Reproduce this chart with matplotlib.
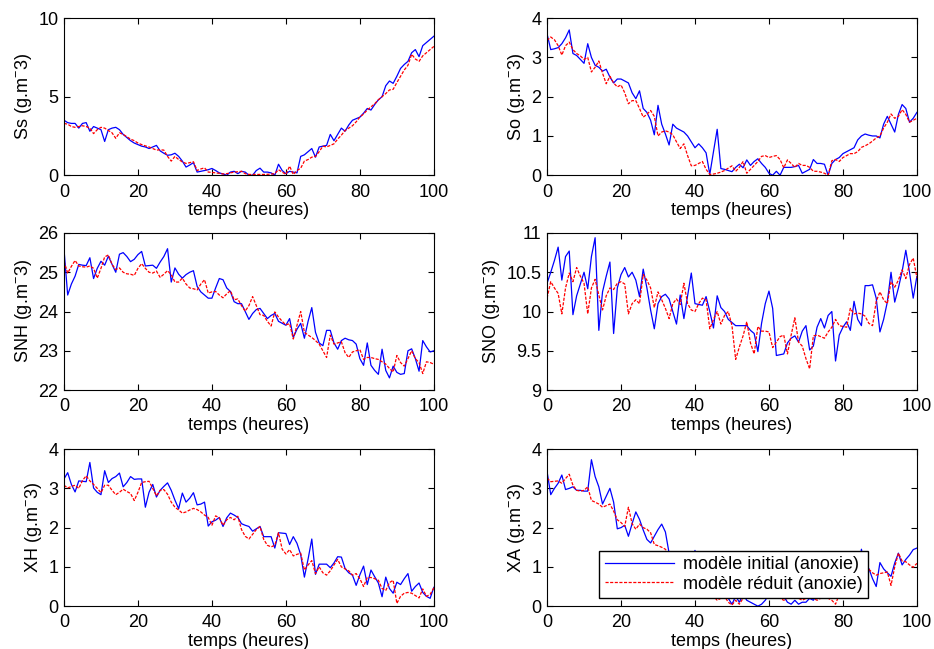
import matplotlib
matplotlib.use("Agg")
import matplotlib.pyplot as plt
import numpy as np

plt.rcParams['font.family'] = ['Liberation Sans', 'DejaVu Sans']
plt.rcParams['font.size'] = 13
plt.rcParams['mathtext.default'] = 'regular'

# temps (heures)
t = np.arange(0, 101)

ss_init = [3.5, 3.35, 3.3, 3.3, 3.0, 3.3, 3.35, 2.8, 3.1, 3.0,
           2.9, 2.15, 2.9, 3.0, 3.05, 2.9, 2.6, 2.4, 2.2, 2.05,
           1.95, 1.85, 1.8, 1.7, 1.8, 1.9, 1.55, 1.4, 1.27, 1.3,
           1.4, 1.2, 0.9, 0.52, 0.65, 0.8, 0.2, 0.25, 0.3, 0.35,
           0.43, 0.3, 0.15, 0.08, 0.0, 0.2, 0.25, 0.1, 0.25, 0.2,
           0.0, 0.0, 0.3, 0.45, 0.2, 0.2, 0.15, 0.0, 0.7, 0.3,
           0.1, 0.25, 0.2, 0.15, 1.2, 1.3, 1.5, 1.7, 1.15, 1.8,
           1.85, 1.9, 2.6, 2.2, 2.6, 3.0, 2.8, 3.2, 3.5, 3.6,
           3.7, 3.95, 4.25, 4.15, 4.5, 4.8, 5.0, 5.7, 6.0, 5.85,
           6.3, 6.8, 7.05, 7.25, 7.8, 8.0, 7.55, 8.25, 8.45, 8.65,
           8.85]
ss_red = [3.3, 3.25, 3.1, 3.05, 3.1, 3.15, 3.1, 3.0, 2.65, 2.9,
          3.05, 3.0, 2.85, 2.7, 2.35, 2.7, 2.6, 2.45, 2.3, 2.2,
          2.05, 1.95, 1.87, 1.8, 1.7, 1.6, 1.62, 1.6, 1.2, 0.9,
          1.2, 1.0, 0.85, 0.75, 0.8, 0.86, 0.3, 0.4, 0.47, 0.2,
          0.18, 0.15, 0.12, 0.08, 0.1, 0.15, 0.2, 0.22, 0.25, 0.1,
          0.05, 0.05, 0.05, 0.05, 0.05, 0.06, 0.07, 0.1, 0.35, 0.2,
          0.05, 0.58, 0.05, 0.3, 0.45, 0.9, 1.0, 1.15, 1.2, 1.5,
          1.85, 1.8, 1.9, 2.0, 2.3, 2.55, 2.85, 3.0, 3.15, 3.4,
          3.7, 3.9, 4.15, 4.35, 4.55, 4.8, 5.0, 5.2, 5.43, 5.47,
          5.9, 6.3, 6.7, 7.0, 7.7, 7.4, 7.25, 7.6, 7.8, 8.0,
          8.2]

so_init = [3.6, 3.2, 3.22, 3.25, 3.35, 3.5, 3.7, 3.1, 3.05, 2.95,
           2.85, 3.35, 3.0, 2.8, 2.75, 2.65, 2.7, 2.5, 2.35, 2.45,
           2.45, 2.4, 2.35, 2.1, 1.95, 2.15, 1.7, 1.6, 1.4, 1.03,
           1.78, 1.3, 1.05, 0.77, 1.3, 1.2, 1.15, 1.1, 1.0, 0.85,
           0.7, 0.8, 0.7, 0.57, 0.02, 0.6, 1.17, 0.17, 0.15, 0.12,
           0.09, 0.2, 0.28, 0.19, 0.39, 0.25, 0.35, 0.42, 0.3, 0.2,
           0.05, 0.0, 0.1, 0.0, 0.2, 0.2, 0.2, 0.22, 0.25, 0.05,
           0.1, 0.15, 0.4, 0.3, 0.3, 0.28, 0.0, 0.3, 0.4, 0.45,
           0.55, 0.6, 0.65, 0.7, 0.9, 1.0, 1.05, 1.02, 1.0, 1.0,
           0.95, 1.3, 1.5, 1.3, 1.1, 1.55, 1.8, 1.7, 1.35, 1.45,
           1.6]
so_red = [3.43, 3.52, 3.45, 3.3, 3.06, 3.3, 3.39, 3.2, 3.1, 3.04,
          2.95, 3.0, 2.63, 2.75, 2.91, 2.6, 2.33, 2.52, 2.35, 2.25,
          2.3, 2.1, 1.82, 1.9, 1.9, 1.7, 1.48, 1.55, 1.65, 1.5,
          1.0, 1.1, 1.13, 1.1, 1.03, 0.85, 0.68, 0.8, 0.5, 0.24,
          0.25, 0.3, 0.35, 0.15, 0.02, 0.03, 0.05, 0.08, 0.12, 0.18,
          0.24, 0.1, 0.2, 0.35, 0.05, 0.15, 0.25, 0.35, 0.48, 0.5,
          0.45, 0.48, 0.5, 0.4, 0.19, 0.39, 0.3, 0.2, 0.3, 0.25,
          0.25, 0.2, 0.1, 0.1, 0.08, 0.05, 0.0, 0.37, 0.4, 0.35,
          0.45, 0.5, 0.55, 0.55, 0.6, 0.71, 0.75, 0.8, 0.87, 0.95,
          1.0, 1.2, 1.35, 1.56, 1.45, 1.5, 1.67, 1.55, 1.35, 1.4,
          1.45]

snh_init = [25.59, 24.42, 24.7, 24.9, 25.2, 25.18, 25.17, 25.37, 24.84, 25.1,
            25.28, 25.18, 25.41, 25.2, 25.0, 25.46, 25.5, 25.4, 25.27, 25.33,
            25.45, 25.53, 25.16, 25.17, 25.18, 25.1, 25.26, 25.4, 25.6, 24.75,
            25.11, 24.95, 24.85, 24.94, 25.0, 25.04, 24.64, 24.5, 24.42, 24.34,
            24.34, 24.6, 24.84, 24.81, 24.6, 24.51, 24.25, 24.2, 24.2, 24.0,
            23.8, 23.95, 24.05, 24.08, 23.95, 23.82, 23.9, 23.95, 23.75, 23.7,
            23.65, 23.82, 23.34, 23.55, 23.7, 23.32, 23.75, 24.1, 23.47, 23.2,
            23.13, 23.52, 23.52, 23.2, 23.04, 23.26, 23.32, 23.28, 23.26, 23.17,
            22.8, 22.63, 23.2, 22.63, 22.5, 22.4, 23.04, 22.5, 22.31, 22.61,
            22.45, 22.4, 22.42, 23.0, 23.05, 22.8, 22.48, 23.26, 23.1, 22.97,
            23.0]
snh_red = [25.28, 24.98, 25.15, 25.3, 25.16, 25.14, 25.13, 25.16, 25.1, 24.85,
           25.1, 25.39, 25.44, 25.2, 25.07, 25.11, 25.0, 24.96, 24.95, 24.92,
           25.1, 25.22, 25.1, 25.0, 24.98, 25.03, 24.87, 24.95, 25.04, 24.94,
           24.75, 24.75, 24.85, 24.7, 24.6, 24.58, 24.55, 24.7, 24.81, 24.47,
           24.5, 24.51, 24.42, 24.35, 24.45, 24.53, 24.3, 24.32, 24.15, 24.01,
           24.15, 24.38, 24.15, 23.92, 23.9, 23.75, 23.63, 23.99, 23.86, 23.75,
           23.66, 23.69, 23.3, 23.65, 24.0, 23.47, 23.4, 23.34, 23.26, 23.17,
           23.0, 22.83, 23.4, 23.17, 23.2, 23.23, 22.95, 22.83, 22.97, 23.0,
           23.03, 22.78, 22.83, 22.83, 22.8, 22.78, 22.72, 22.66, 22.55, 22.46,
           22.88, 22.7, 22.61, 22.8, 23.0, 22.8, 22.7, 22.42, 22.72, 22.7,
           22.66]

sno_init = [10.36, 10.5, 10.65, 10.82, 10.4, 10.7, 10.77, 9.96, 10.2, 10.35,
            10.5, 10.29, 10.7, 10.94, 9.76, 10.25, 10.45, 10.63, 9.72, 10.3,
            10.47, 10.56, 10.44, 10.5, 10.4, 10.19, 10.54, 10.3, 10.02, 9.78,
            10.1, 10.19, 10.22, 10.16, 10.0, 9.84, 10.21, 9.91, 10.2, 10.49,
            10.1, 10.09, 10.08, 10.19, 10.0, 9.79, 10.2, 10.05, 10.0, 9.9,
            9.86, 9.82, 9.82, 9.82, 9.82, 9.76, 9.72, 9.49, 9.85, 10.1,
            10.26, 10.04, 9.44, 9.45, 9.46, 9.6, 9.66, 9.69, 9.61, 9.75,
            9.82, 9.51, 9.56, 9.8, 9.91, 9.79, 9.95, 10.0, 9.37, 9.7,
            9.8, 9.87, 9.76, 10.13, 9.9, 9.82, 10.33, 10.33, 10.34, 10.17,
            9.74, 9.9, 10.12, 10.5, 10.12, 10.3, 10.51, 10.78, 10.5, 10.17,
            10.45]
sno_red = [10.17, 10.38, 10.3, 10.23, 9.97, 10.3, 10.49, 10.38, 10.56, 10.45,
           10.36, 9.97, 10.3, 10.41, 10.21, 10.02, 10.2, 10.3, 10.28, 10.36,
           10.38, 10.35, 9.97, 10.1, 10.15, 10.1, 10.47, 10.4, 10.3, 10.05,
           10.25, 10.15, 10.04, 9.91, 10.1, 10.16, 10.09, 10.36, 10.1, 10.02,
           10.0, 10.1, 10.17, 10.15, 9.78, 9.9, 10.0, 9.84, 9.95, 10.0,
           9.82, 9.39, 9.55, 9.69, 9.87, 9.6, 9.46, 9.81, 9.75, 9.75,
           9.74, 9.54, 9.61, 9.68, 9.7, 9.46, 9.7, 9.92, 9.61, 9.56,
           9.4, 9.27, 9.69, 9.7, 9.68, 9.66, 9.74, 9.8, 9.9, 9.82,
           9.81, 9.8, 10.04, 9.97, 9.98, 9.97, 9.94, 9.85, 9.82, 10.13,
           10.25, 10.15, 10.1, 10.38, 10.31, 10.4, 10.53, 10.42, 10.6, 10.68,
           10.43]

xh_init = [3.24, 3.4, 3.1, 2.91, 3.19, 3.18, 3.17, 3.66, 3.01, 2.9,
           2.84, 3.45, 3.15, 3.25, 3.3, 3.39, 3.04, 3.15, 3.3, 3.23,
           3.24, 3.24, 2.52, 2.9, 3.1, 2.78, 2.95, 3.05, 3.14, 2.95,
           2.7, 2.48, 2.88, 2.65, 2.75, 2.89, 2.58, 2.6, 2.65, 2.04,
           2.15, 2.19, 2.26, 2.03, 2.25, 2.37, 2.32, 2.26, 2.1, 2.06,
           2.03, 1.91, 1.97, 2.03, 1.77, 1.77, 1.77, 1.48, 1.87, 1.86,
           1.85, 1.57, 1.77, 1.6, 1.31, 0.74, 1.2, 1.71, 0.81, 1.07,
           1.07, 1.07, 0.98, 1.1, 1.26, 1.25, 0.96, 0.85, 0.79, 0.53,
           0.8, 1.02, 0.55, 0.92, 0.75, 0.59, 0.24, 0.74, 0.45, 0.33,
           0.61, 0.55, 0.7, 0.83, 0.38, 0.5, 0.59, 0.35, 0.25, 0.2,
           0.48]
xh_red = [3.08, 3.01, 3.05, 3.08, 3.0, 3.2, 3.32, 3.19, 3.1, 3.0,
          2.89, 3.08, 3.08, 2.95, 2.84, 2.9, 2.98, 2.92, 2.87, 2.69,
          2.9, 3.15, 3.17, 3.18, 3.0, 2.81, 2.95, 2.97, 2.85, 2.65,
          2.52, 2.45, 2.37, 2.4, 2.45, 2.49, 2.46, 2.4, 2.32, 2.26,
          2.06, 2.3, 2.25, 2.06, 2.2, 2.26, 2.2, 2.29, 1.95, 1.78,
          1.71, 1.83, 1.95, 2.03, 1.7, 1.55, 1.51, 1.55, 1.87, 1.45,
          1.33, 1.44, 1.28, 1.32, 1.35, 0.92, 1.05, 1.16, 0.83, 1.0,
          0.85, 0.79, 0.9, 1.05, 1.19, 1.0, 0.95, 0.9, 0.79, 0.83,
          0.7, 0.5, 0.73, 0.73, 0.7, 0.66, 0.45, 0.4, 0.6, 0.66,
          0.07, 0.25, 0.33, 0.35, 0.33, 0.27, 0.21, 0.44, 0.25, 0.3,
          0.47]

xa_init = [3.43, 2.84, 3.0, 3.13, 3.34, 2.97, 3.0, 3.04, 2.95, 2.95,
           2.93, 2.93, 3.73, 3.3, 3.04, 2.6, 2.8, 3.0, 2.65, 1.97,
           2.0, 2.06, 1.78, 2.1, 2.4, 2.21, 1.94, 1.7, 1.61, 1.78,
           1.95, 2.09, 1.89, 1.35, 1.1, 0.9, 0.8, 0.95, 0.7, 0.9,
           1.42, 0.6, 0.5, 0.45, 0.3, 0.35, 0.2, 0.3, 0.25, 0.2,
           0.05, 0.25, 0.1, 0.3, 0.15, 0.1, 0.05, 0.0, 0.05, 0.15,
           0.3, 0.25, 0.3, 0.2, 0.25, 0.1, 0.05, 0.15, 0.05, 0.1,
           0.1, 0.2, 0.15, 0.3, 0.25, 0.35, 0.3, 0.2, 0.3, 0.4,
           0.5, 0.45, 0.6, 0.7, 0.8, 1.45, 0.9, 0.96, 0.7, 0.5,
           1.11, 0.95, 0.85, 0.76, 1.1, 1.35, 1.05, 1.19, 1.3, 1.44,
           1.48]
xa_red = [3.26, 3.17, 3.18, 3.19, 3.13, 3.25, 3.36, 3.08, 2.95, 2.93,
          2.95, 3.04, 2.69, 2.65, 2.6, 2.52, 2.56, 2.6, 2.42, 2.2,
          2.13, 2.03, 2.52, 2.1, 1.96, 2.09, 2.0, 1.96, 1.87, 1.57,
          1.54, 1.5, 1.45, 1.3, 1.1, 0.9, 0.85, 0.8, 0.7, 0.65,
          0.55, 0.5, 0.45, 0.4, 0.35, 0.25, 0.15, 0.2, 0.25, 0.1,
          0.03, 0.15, 0.05, 0.2, 0.25, 0.3, 0.25, 0.2, 0.3, 0.25,
          0.2, 0.3, 0.25, 0.2, 0.15, 0.2, 0.2, 0.25, 0.2, 0.15,
          0.2, 0.25, 0.2, 0.15, 0.2, 0.25, 0.2, 0.15, 0.05, 0.3,
          0.4, 0.5, 0.55, 0.65, 0.7, 0.8, 0.85, 0.94, 0.85, 0.79,
          0.83, 0.85, 0.87, 0.53, 1.0, 1.35, 1.15, 1.13, 1.05, 0.99,
          1.09]

ylabels = ['Ss (g.m$^{-}$3)', 'So (g.m$^{-}$3)', 'SNH (g.m$^{-}$3)',
           'SNO (g.m$^{-}$3)', 'XH (g.m$^{-}$3)', 'XA (g.m$^{-}$3)']
series = [(ss_init, ss_red), (so_init, so_red), (snh_init, snh_red),
          (sno_init, sno_red), (xh_init, xh_red), (xa_init, xa_red)]
ylims = [(0, 10), (0, 4), (22, 26), (9, 11), (0, 4), (0, 4)]
yticks = [[0, 5, 10], [0, 1, 2, 3, 4], [22, 23, 24, 25, 26],
          [9, 9.5, 10, 10.5, 11], [0, 1, 2, 3, 4], [0, 1, 2, 3, 4]]

fig = plt.figure(figsize=(9.34, 6.49), dpi=100)
lefts = [0.0685, 0.5857]
bottoms = [0.730, 0.399, 0.066]
w, h = 0.396, 0.242

axes = []
for i in range(6):
    ax = fig.add_axes([lefts[i % 2], bottoms[i // 2], w, h])
    init, red = series[i]
    l1, = ax.plot(t, init, 'b-', lw=0.9)
    l2, = ax.plot(t, red, color='r', ls=(0, (2.5, 1.2)), lw=0.9)
    ax.set_xlim(0, 100)
    ax.set_ylim(*ylims[i])
    ax.set_xticks([0, 20, 40, 60, 80, 100])
    ax.set_yticks(yticks[i])
    if i == 3:
        ax.set_yticklabels(['9', '9.5', '10', '10.5', '11'])
    ax.tick_params(direction='in', top=True, right=True, length=4,
                   labelsize=13, pad=4)
    ax.tick_params(axis='x', pad=6)
    ax.set_xlabel('temps (heures)', fontsize=13, labelpad=1)
    ax.set_ylabel(ylabels[i], fontsize=13, labelpad=3)
    for s in ax.spines.values():
        s.set_linewidth(0.8)
    axes.append(ax)

leg = axes[5].legend([l1, l2], ['modèle initial (anoxie)', 'modèle réduit (anoxie)'],
                     loc='lower right', bbox_to_anchor=(0.867, 0.052),
                     fontsize=13, handlelength=3.8, fancybox=False,
                     framealpha=1, borderpad=0.3, labelspacing=0.12,
                     handletextpad=0.5, borderaxespad=0)
leg.get_frame().set_edgecolor('black')
leg.get_frame().set_linewidth(1.0)

fig.savefig('out.png', dpi=100)
